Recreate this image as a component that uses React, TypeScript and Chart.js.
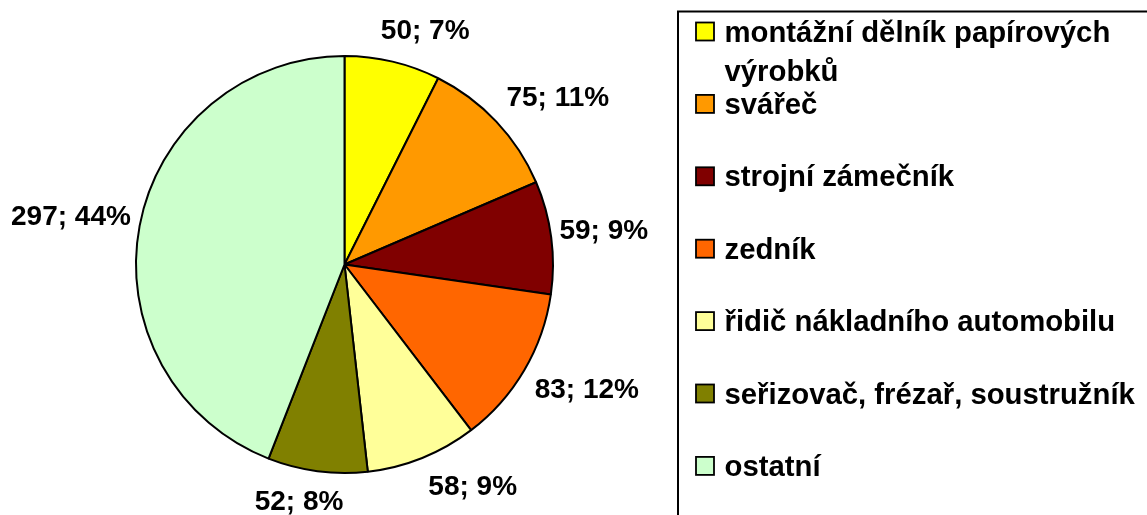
import React, { useEffect, useRef } from "react";
import { Chart, registerables } from "chart.js";

Chart.register(...registerables);

const categories = [
  "montážní dělník papírových výrobků",
  "svářeč",
  "strojní zámečník",
  "zedník",
  "řidič nákladního automobilu",
  "seřizovač, frézař, soustružník",
  "ostatní",
];
const counts = [50, 75, 59, 83, 58, 52, 297];
const sliceColors = ["#FFFF00", "#FF9900", "#800000", "#FF6600", "#FFFF99", "#808000", "#CCFFCC"];

const FONT = '"Liberation Sans", Arial, sans-serif';

const clamp = (v: number, lo: number, hi: number) => Math.max(lo, Math.min(hi, v));

const labelPlugin = {
  id: "sliceLabels",
  afterDatasetsDraw(chart: any) {
    const ctx = chart.ctx;
    const meta = chart.getDatasetMeta(0);
    const data = chart.data.datasets[0].data as number[];
    const total = data.reduce((a, b) => a + b, 0);
    ctx.save();
    ctx.font = `bold 28px ${FONT}`;
    ctx.fillStyle = "#000";
    ctx.textAlign = "center";
    ctx.textBaseline = "middle";
    meta.data.forEach((arc: any, i: number) => {
      const p = arc.getProps(["x", "y", "startAngle", "endAngle", "outerRadius"], true);
      const mid = (p.startAngle + p.endAngle) / 2;
      const dx = Math.cos(mid);
      const dy = Math.sin(mid);
      const v = data[i];
      const text = `${v}; ${Math.round((v / total) * 100)}%`;
      const hw = ctx.measureText(text).width / 2;
      const hh = 14;
      const R = p.outerRadius + 7 + 10 * Math.abs(dy);
      const cx = p.x + dx * R + hw * clamp(dx * 2.8, -1, 1);
      const cy = p.y + dy * R + hh * clamp(dy * 2.8, -1, 1);
      ctx.fillText(text, cx, cy);
    });
    ctx.restore();
  },
};

const legendPlugin = {
  id: "boxLegend",
  afterDraw(chart: any) {
    const ctx = chart.ctx;
    const labels = chart.data.labels as string[];
    const colors = chart.data.datasets[0].backgroundColor as string[];
    ctx.save();
    ctx.strokeStyle = "#000";
    ctx.lineWidth = 2;
    ctx.strokeRect(678, 11.5, 700, 700);
    ctx.font = `bold 29.3px ${FONT}`;
    ctx.fillStyle = "#000";
    ctx.textAlign = "left";
    ctx.textBaseline = "alphabetic";
    const textX = 724.5;
    const maxW = 435;
    const top = 41.5;
    const pitch = 72.4;
    const lineH = 39;
    labels.forEach((label, i) => {
      const words = label.split(" ");
      const lines: string[] = [];
      let cur = "";
      words.forEach((w) => {
        const test = cur ? cur + " " + w : w;
        if (ctx.measureText(test).width > maxW && cur) {
          lines.push(cur);
          cur = w;
        } else cur = test;
      });
      if (cur) lines.push(cur);
      const base = top + pitch * i;
      ctx.fillStyle = colors[i];
      ctx.fillRect(696, base - 19, 18, 18);
      ctx.strokeStyle = "#000";
      ctx.lineWidth = 1.8;
      ctx.strokeRect(696, base - 19, 18, 18);
      ctx.fillStyle = "#000";
      lines.forEach((ln, j) => ctx.fillText(ln, textX, base + j * lineH));
    });
    ctx.restore();
  },
};

export default function App() {
  const ref = useRef<HTMLCanvasElement | null>(null);
  useEffect(() => {
    if (!ref.current) return;
    const chart = new Chart(ref.current, {
      type: "pie",
      data: {
        labels: categories,
        datasets: [
          {
            data: counts,
            backgroundColor: sliceColors,
            borderColor: "#000",
            borderWidth: 2,
          },
        ],
      },
      options: {
        responsive: false,
        animation: false,
        layout: { padding: { left: 135, top: 55, right: 593, bottom: 41 } },
        plugins: {
          legend: { display: false },
          tooltip: { enabled: false },
        },
      },
      plugins: [labelPlugin, legendPlugin],
    });
    return () => chart.destroy();
  }, []);
  return (
    <div style={{ position: "absolute", left: 0, top: 0, width: 1147, height: 515, background: "#fff" }}>
      <canvas ref={ref} width={1147} height={515} style={{ display: "block", width: 1147, height: 515 }} />
    </div>
  );
}
